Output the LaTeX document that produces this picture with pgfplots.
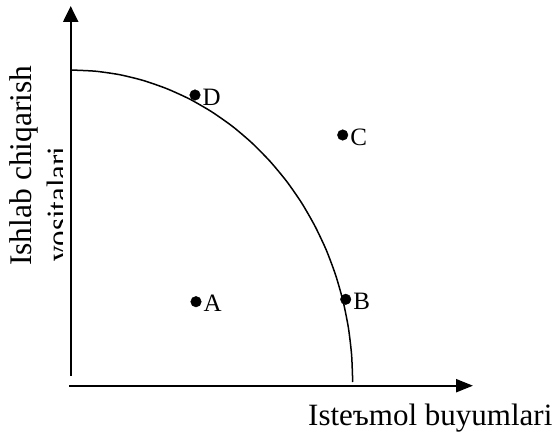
\documentclass[border=0pt]{standalone}
\usepackage{fontspec}
\setmainfont{Liberation Serif}
\usepackage{pgfplots}
\pgfplotsset{compat=1.18}
\usetikzlibrary{arrows.meta}
\begin{document}
\begin{tikzpicture}
\begin{axis}[
  scale only axis, width=558bp, height=445bp,
  xmin=0, xmax=558, ymin=0, ymax=445, y dir=reverse,
  hide axis, clip=false]
% axes
\addplot[black, line width=2.2bp, -{Triangle[length=17bp,width=13bp]}] coordinates {(69.3,385.7) (473,385.7)};
\addplot[black, line width=2.2bp, -{Triangle[length=16bp,width=15bp]}] coordinates {(70.7,376) (70.7,6)};
% production possibilities curve
\addplot[black, line width=1.5bp, smooth, tension=0.4] coordinates {
(70.7,70) (95.3,71.2) (119.7,74.7) (143.7,80.6) (167.1,88.8) (189.9,99.2)
(211.7,111.8) (232.5,126.4) (252.0,143.0) (270.1,161.4) (286.7,181.4)
(301.7,203.0) (314.9,226) (326.3,250.1) (335.7,275.3) (343.1,301.3)
(348.4,327.8) (351.6,354.8) (352.7,382)};
% points
\addplot[only marks, black, mark=*, mark size=5.3bp,
  point meta=explicit symbolic,
  nodes near coords,
  every node near coord/.style={anchor=base west, xshift=7.5bp, yshift=-10bp,
    font=\fontsize{25bp}{30bp}\selectfont, text=black, inner sep=0pt}]
  coordinates {(195,95) [D] (342.7,135) [C] (196,301.7) [A] (345.7,299.3) [B]};
% labels
\node[anchor=base west, inner sep=0pt, font=\fontsize{31bp}{37bp}\selectfont] at (308,425) {Isteъmol buyumlari};
\node[rotate=90, anchor=base west, inner sep=0pt, font=\fontsize{31.5bp}{37bp}\selectfont] at (31.7,266) {Ishlab chiqarish};
\begin{scope}
\clip (0,0) rectangle (62,445);
\node[rotate=90, anchor=base west, inner sep=0pt, font=\fontsize{31bp}{37bp}\selectfont] at (68,262) {vositalari};
\end{scope}
\path (0,0) rectangle (558,445);
\end{axis}
\end{tikzpicture}
\end{document}
